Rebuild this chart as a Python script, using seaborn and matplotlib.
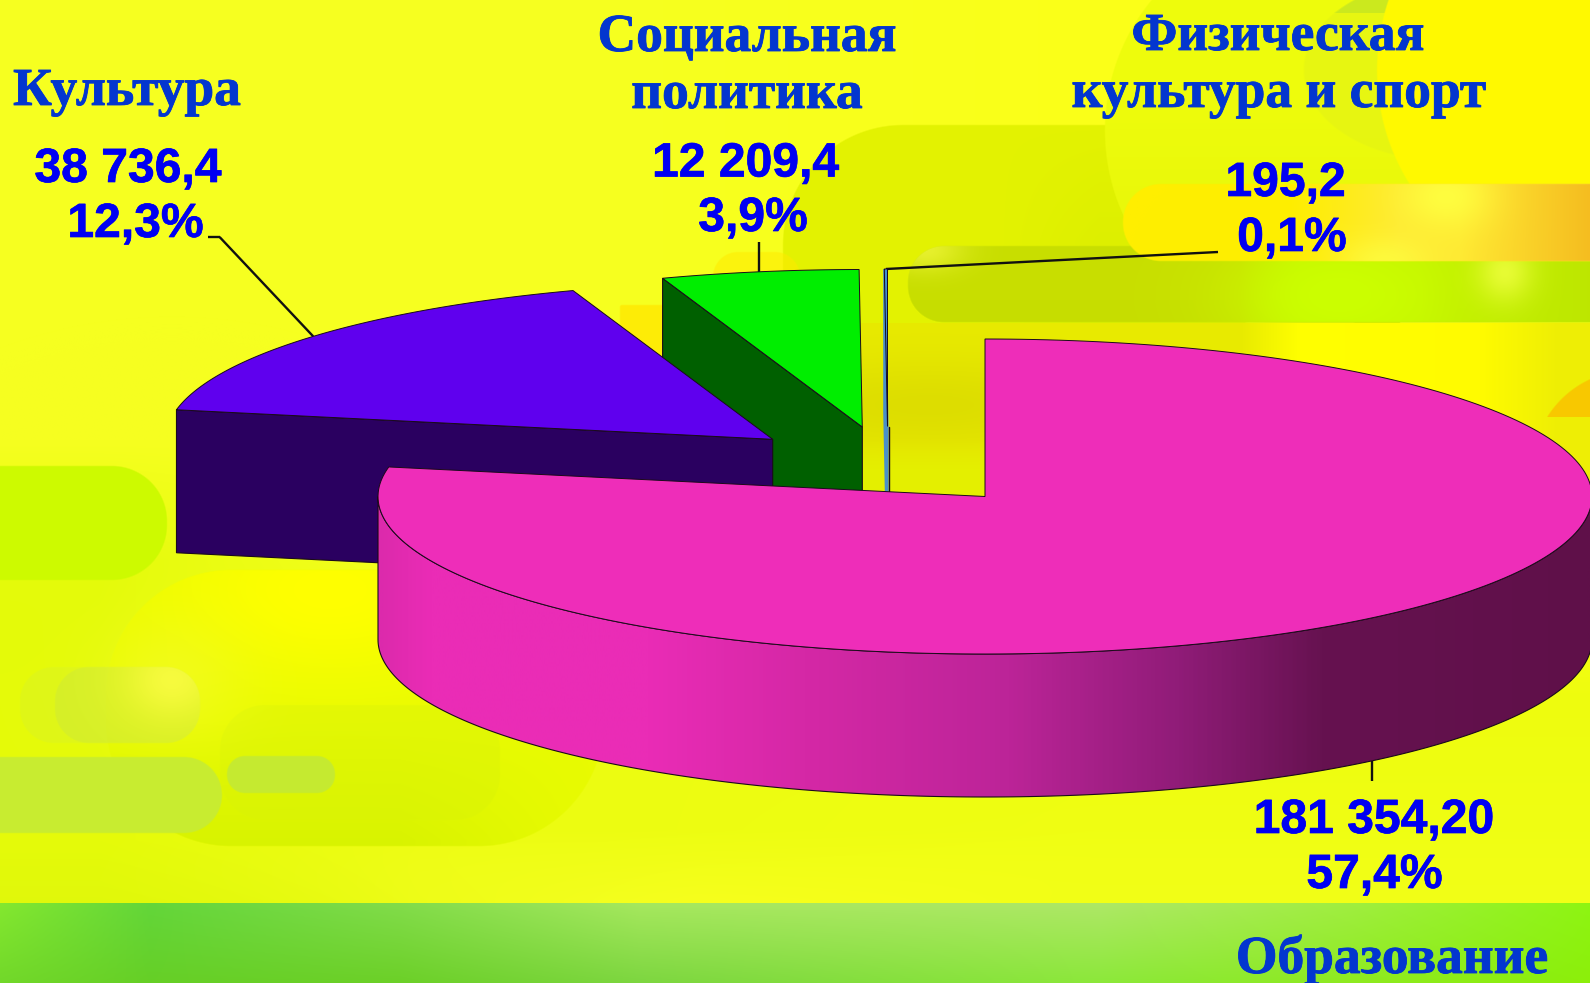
import matplotlib
matplotlib.use("Agg")
import matplotlib.pyplot as plt
import matplotlib.patheffects as pe
from matplotlib.colors import LinearSegmentedColormap
from matplotlib.patches import Polygon
import numpy as np
import seaborn as sns

categories = ["Образование", "Культура", "Социальная\nполитика", "Физическая\nкультура и спорт"]
amounts = [181354.20, 38736.4, 12209.4, 195.2]
amount_labels = ["181 354,20", "38 736,4", "12 209,4", "195,2"]
percent_labels = ["57,4%", "12,3%", "3,9%", "0,1%"]

W, H = 1590, 983
RX, RY, DEPTH = 607, 157.5, 143
# where each exploded slice has its apex
apex = [(985, 496.5), (772.7, 439.3), (862.3, 427), (887.5, 426.5)]

top_colors = sns.color_palette(["#ee2db9", "#5f00ee", "#00ee00", "#3f8fd0"])
wall_colors = sns.color_palette(["#e92cb5", "#2a0060", "#006000", "#4a90c8"])
wall_cmap = LinearSegmentedColormap.from_list("wall", [
    (0, "#dc2aac"), (0.04, "#ea2cb6"), (0.22, "#ea2cb6"), (0.35, "#d528a6"),
    (0.52, "#bc2498"), (0.66, "#901c78"), (0.78, "#661250"), (1, "#5f1049")])
TITLE_BLUE = "#0336cf"
VALUE_BLUE = "#0000f2"

sns.set_theme(style="white")

X, Y = np.meshgrid(np.arange(W) + 0.5, np.arange(H) + 0.5)


def rrect(x0, y0, x1, y1, r):
    dx = np.abs(X - (x0 + x1) / 2) - (x1 - x0) / 2 + r
    dy = np.abs(Y - (y0 + y1) / 2) - (y1 - y0) / 2 + r
    d = np.hypot(np.maximum(dx, 0), np.maximum(dy, 0)) + np.minimum(np.maximum(dx, dy), 0) - r
    return np.clip(0.5 - d / 1.5, 0, 1)


def oval(cx, cy, rx, ry):
    d = (np.hypot((X - cx) / rx, (Y - cy) / ry) - 1) * min(rx, ry)
    return np.clip(0.5 - d / 1.5, 0, 1)


def glow(cx, cy, sx, sy):
    return np.exp(-((X - cx) / sx) ** 2 - ((Y - cy) / sy) ** 2)


def ramp(v, a, b):
    return np.clip((v - a) / (b - a), 0, 1)


def rgb(c):
    return np.array(matplotlib.colors.to_rgb(c))


def paint(img, mask, c, a=1.0):
    m = (mask * a)[..., None]
    return img * (1 - m) + rgb(c) * m


# background of the slide
bg = np.ones((H, W, 3)) * rgb("#f6ff20")
bg = paint(bg, ramp(X, 600, 1100), "#fbff18")
bg = paint(bg, ramp(Y, 440, 560) * ramp(-X, -420, -100), "#e2fa08", 0.9)
bg = paint(bg, ramp(Y, 560, 700) * (1 - ramp(Y, 830, 900)), "#e6fb08", 0.6)
bg = paint(bg, ramp(Y, 840, 900) * ramp(-X, -700, -100), "#e0f80a", 0.8)
bg = paint(bg, ramp(Y, 700, 900) * ramp(X, 600, 1100), "#f0ff16", 0.9)
# centre shape behind the pie
bg = paint(bg, rrect(783, 125, 1400, 700, 120), "#e2f200", 0.95)
bg = paint(bg, rrect(783, 125, 1400, 700, 120) * ramp(Y, 125, 240) * ramp(X, 1000, 1100), "#d8ec00", 0.5)
bg = paint(bg, rrect(620, 305, 790, 470, 2), "#ffe800", 0.8)
bg = paint(bg, rrect(713, 252, 800, 320, 25), "#ffea00", 0.55)
# upper right shapes
bg = paint(bg, oval(1300, 130, 195, 200), "#eefc0c", 1)
bg = paint(bg, oval(1300, 130, 195, 200) * ramp(Y, 100, 260), "#e4f408", 0.7)
crescent = oval(1440, 70, 136, 90)
bg = paint(bg, crescent, "#e6f512", 0.85)
bg = paint(bg, crescent * (Y < 13), "#c8e820", 0.9)
bg = paint(bg, oval(1560, 70, 183, 200), "#fff900", 1)
bg = paint(bg, rrect(1500, -10, 1700, 322, 2) * ramp(Y, 200, 280), "#fff900", 1)
# under the green band
under = ramp(Y, 322, 323) * (1 - ramp(Y, 520, 521)) * ramp(X, 860, 861)
under_col = np.stack([np.interp(X, [860, 1240, 1300, 1480, 1560, 1590],
                                [rgb(c)[i] for c in ["#e8ea00", "#e8ea00", "#ffff00", "#fffb00", "#eeee05", "#eeee05"]])
                      for i in range(3)], axis=-1)
bg = np.where(under[..., None] > 0.5, under_col, bg)
bg = paint(bg, under * (1 - ramp(X, 1000, 1020)) * glow(930, 405, 200, 45), "#dcdc00", 0.9)
bg = paint(bg, under * (1 - ramp(X, 1000, 1020)) * ramp(Y, 440, 470), "#e4f000", 0.9)
bg = paint(bg, oval(1632, 470, 100, 100) * (Y < 417), "#f8c800", 1)
# horizontal bands on the right
band = rrect(908, 246, 1800, 322, 36)
bg = paint(bg, band, "#c8de00", 1)
bg = paint(bg, band * (Y > 300), "#c4dc00", 0.5)
bg = paint(bg, band * glow(925, 250, 40, 22), "#f4f840", 0.7)
bg = paint(bg, band * ramp(X, 1240, 1300), "#c4f200", 1)
bg = paint(bg, band * glow(1340, 295, 110, 60), "#ccff00", 1)
bg = paint(bg, band * ramp(X, 1420, 1590), "#bce400", 0.8)
bg = paint(bg, band * glow(1505, 272, 28, 30), "#f0ff40", 0.8)
orange = rrect(1123, 184, 1800, 261, 38)
bg = paint(bg, orange, "#ffee00", 1)
bg = paint(bg, orange * ramp(X, 1290, 1400), "#ffe838", 0.9)
bg = paint(bg, orange * ramp(X, 1460, 1590), "#f5bd20", 1)
bg = paint(bg, orange * glow(1446, 197, 45, 32), "#ffff40", 0.9)
bg = paint(bg, orange * glow(1385, 262, 45, 25), "#fdfd40", 0.8)
# left shapes
big = rrect(106, 570, 604, 846, 125)
bg = paint(bg, big, "#e8fb00", 0.9)
bg = paint(bg, big * glow(330, 590, 170, 90), "#ffff00", 1)
bg = paint(bg, big * ramp(Y, 720, 840) * ramp(-X, -600, -400), "#d6f200", 0.85)
bg = paint(bg, rrect(-60, 466, 167, 580, 55), "#cdfa00", 1)
bg = paint(bg, rrect(220, 705, 500, 820, 45), "#d8f208", 0.4)
bg = paint(bg, rrect(20, 667, 200, 743, 34), "#d4ee30", 0.35)
bg = paint(bg, rrect(55, 667, 200, 743, 34), "#cce838", 0.5)
bg = paint(bg, glow(172, 680, 70, 60), "#f6fb30", 0.5)
bg = paint(bg, rrect(20, 667, 200, 743, 34) * glow(172, 680, 38, 32), "#f8fb40", 0.9)
bg = paint(bg, rrect(-60, 757, 222, 833, 38), "#c8ec30", 1)
bg = paint(bg, rrect(227, 756, 335, 793, 18), "#c5ea30", 1)
# green strip at the bottom
xs = np.array([0, 150, 400, 640, 1100, 1350, 1590])
strip_top = np.array([rgb(c) for c in ["#84e82f", "#63d63a", "#82dc4a", "#a6e85e", "#aee866", "#a0ee40", "#8ef512"]])
strip_bot = np.array([rgb(c) for c in ["#72d82a", "#66cf26", "#6cd028", "#7dd640", "#8ce83a", "#8eea20", "#8cef0a"]])
tv = np.clip((Y - 903) / 80, 0, 1)[..., None]
top = np.stack([np.interp(X, xs, strip_top[:, i]) for i in range(3)], axis=-1)
bot = np.stack([np.interp(X, xs, strip_bot[:, i]) for i in range(3)], axis=-1)
strip = top * (1 - tv) + bot * tv
bg = np.where((Y >= 903)[..., None], strip, bg)

fig = plt.figure(figsize=(W / 100, H / 100), dpi=100)
ax = fig.add_axes([0, 0, 1, 1])
ax.imshow(bg, extent=(0, W, H, 0), interpolation="bilinear", aspect="auto", zorder=0)

# slice angles, clockwise from twelve o'clock, from the four amounts
sweep = np.array(amounts) / np.sum(amounts) * 360
starts = 90 - np.concatenate([[0], np.cumsum(sweep)[:-1]])
ends = starts - sweep
mids = (starts + ends) / 2


def rim(i, a0, a1, drop=0.0, n=240):
    t = np.radians(np.linspace(a0, a1, n))
    cx, cy = apex[i]
    return np.column_stack([cx + RX * np.cos(t), cy - RY * np.sin(t) + drop])


EDGE = "#1a0a1a"
order = [3, 2, 1, 0]
for z, i in enumerate(order):
    z = 3 + z
    cx, cy = apex[i]
    # radial wall that faces the viewer, on the far end of the slice
    if i in (1, 2, 3):
        p = rim(i, starts[i], starts[i], n=1)[0]
        wall = [p, (cx, cy), (cx, cy + DEPTH), (p[0], p[1] + DEPTH)]
        wall_edge = wall_colors[i] if i == 3 else EDGE
        ax.add_patch(Polygon(wall, closed=True, fc=wall_colors[i], ec=wall_edge,
                             lw=1.6 if i == 3 else 0.8, zorder=z))
        if i == 3:
            ax.plot([cx + 1, cx + 1], [cy, cy + DEPTH], color=EDGE, lw=1.0, zorder=z + 0.1)
    if i == 0:
        # outer wall of the big slice, shaded from left to right
        front = rim(0, -180, 0)
        outline = np.vstack([front, rim(0, 0, -180, drop=DEPTH)])
        poly = Polygon(outline, closed=True, fc="none", ec=EDGE, lw=0.8, zorder=z + 0.2)
        ax.add_patch(poly)
        grad = np.linspace(0, 1, 600)[None, :]
        im = ax.imshow(grad, extent=(cx - RX, cx + RX, cy + RY + DEPTH, cy - RY), cmap=wall_cmap,
                       aspect="auto", zorder=z + 0.1, vmin=0, vmax=1)
        im.set_clip_path(poly)
    # top face
    arc = rim(i, starts[i], ends[i])
    ax.add_patch(Polygon(np.vstack([[(cx, cy)], arc]), closed=True, fc=top_colors[i], ec=EDGE, lw=0.7, zorder=z + 0.3))

# leader lines go from the middle of each slice rim to its label
LEADER = dict(color="#111111", lw=1.7, zorder=2.5, solid_capstyle="butt")
for i, ends_at in enumerate([(None, 781), (219.6, 237), (None, 241.7), (1218, 252)]):
    p = rim(i, mids[i], mids[i], drop=DEPTH if i == 0 else 0, n=1)[0]
    x_end, y_end = ends_at
    ax.plot([p[0], p[0] if x_end is None else x_end], [p[1], y_end], **LEADER)
ax.plot([208, 219.6], [237, 237], **LEADER)

# text, one line at a time
title_kw = dict(family="Liberation Serif", weight="bold", color=TITLE_BLUE, fontsize=38.5,
                ha="center", va="baseline", zorder=10,
                path_effects=[pe.withStroke(linewidth=0.6, foreground=TITLE_BLUE)])
value_kw = dict(family="Liberation Sans", weight="bold", color=VALUE_BLUE, fontsize=34.6,
                ha="center", va="baseline", zorder=10,
                path_effects=[pe.withStroke(linewidth=0.5, foreground=VALUE_BLUE)])

title_pos = [[(1392, 973)], [(127, 105)], [(747, 51), (747, 108)], [(1278, 50), (1279, 107)]]
value_pos = [(1374, 833), (128, 182), (745.5, 176.5), (1285.5, 196)]
percent_pos = [(1374.5, 888), (135.5, 237), (753, 231), (1292, 251)]

for i, name in enumerate(categories):
    for line, (x, y) in zip(name.split("\n"), title_pos[i]):
        ax.text(x, y, line, **title_kw)
    ax.text(*value_pos[i], amount_labels[i], **value_kw)
    ax.text(*percent_pos[i], percent_labels[i], **value_kw)

ax.set_xlim(0, W)
ax.set_ylim(H, 0)
ax.axis("off")
fig.savefig("out.png", dpi=100)
